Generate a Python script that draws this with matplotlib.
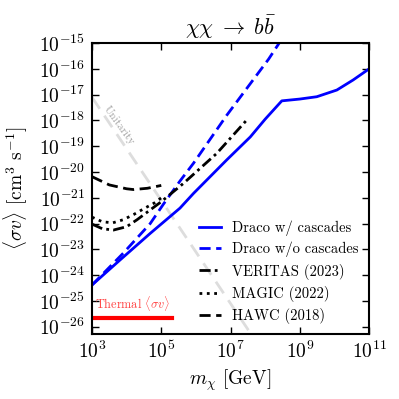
import numpy as np
import matplotlib
matplotlib.use('Agg')
import matplotlib.pyplot as plt

plt.rcParams['font.family'] = 'serif'
plt.rcParams['font.serif'] = ['cmr10']
plt.rcParams['mathtext.fontset'] = 'cm'
plt.rcParams['axes.formatter.use_mathtext'] = True
plt.rcParams['axes.unicode_minus'] = False

# ---------------- data (log10 m [GeV], log10 <sv> [cm^3/s]) ----------------
draco_casc_m = [3.0, 3.81, 4.68, 5.54, 5.93, 6.89, 7.57, 8.0, 8.48, 9.0, 9.49, 10.07, 10.54, 11.0]
draco_casc_sv = [-24.38, -23.41, -22.38, -21.40, -20.83, -19.53, -18.64, -17.95, -17.24,
                 -17.17, -17.08, -16.82, -16.43, -16.0]

draco_nocasc_m = [3.0, 3.9, 4.68, 5.06, 5.54, 5.93, 6.89, 8.10, 8.6]
draco_nocasc_sv = [-24.38, -23.15, -22.0, -21.25, -20.35, -19.66, -17.8, -15.62, -14.6]

veritas_m = [3.0, 3.3, 3.62, 4.0, 4.3, 4.68, 5.0, 5.64, 6.6, 7.47]
veritas_sv = [-22.02, -22.2, -22.25, -22.12, -21.85, -21.47, -21.15, -20.44, -19.28, -17.98]

magic_m = [3.0, 3.3, 3.6, 3.9, 4.2, 4.5, 4.8, 5.0]
magic_sv = [-21.75, -21.93, -21.97, -21.85, -21.65, -21.42, -21.2, -21.0]

hawc_m = [3.0, 3.5, 4.0, 4.2, 4.6, 5.0]
hawc_sv = [-20.18, -20.5, -20.65, -20.68, -20.63, -20.52]

unit_m = [3.0, 9.0]
unit_sv = [-17.1, -29.1]

thermal_m = [1e3, 2.1e5]
thermal_sv = 2.2e-26

# ---------------- figure ----------------
fig = plt.figure(figsize=(3.99, 3.99), dpi=100)
ax = fig.add_axes([0.2306, 0.163, 0.6944, 0.729])

ax.plot(10**np.array(unit_m), 10**np.array(unit_sv), color='#dddddd', lw=2,
        dashes=(5, 3), zorder=1)
ax.text(10**3.78, 10**-18.2, 'Unitarity', color='#a0a0a0', fontsize=8,
        rotation=-54, ha='center', va='center')

ax.plot(10**np.array(draco_casc_m), 10**np.array(draco_casc_sv), color='blue', lw=2,
        label='Draco w/ cascades')
ax.plot(10**np.array(draco_nocasc_m), 10**np.array(draco_nocasc_sv), color='blue', lw=2,
        ls='--', dashes=(4, 2), label='Draco w/o cascades')
ax.plot(10**np.array(veritas_m), 10**np.array(veritas_sv), color='black', lw=2,
        dashes=(4, 1.5, 1, 1.5), label='VERITAS (2023)')
ax.plot(10**np.array(magic_m), 10**np.array(magic_sv), color='black', lw=2,
        ls=':', label='MAGIC (2022)')
ax.plot(10**np.array(hawc_m), 10**np.array(hawc_sv), color='black', lw=2,
        dashes=(4, 2), label='HAWC (2018)')

ax.plot(thermal_m, [thermal_sv, thermal_sv], color='red', lw=3)
ax.text(10**4.17, thermal_sv * 1.5, r'Thermal $\langle\sigma v\rangle$', color='#ff4040',
        fontsize=8.8, ha='center', va='bottom')

ax.set_xscale('log')
ax.set_yscale('log')
ax.set_xlim(1e3, 1e11)
ax.set_ylim(10**-26.28, 1e-15)
ax.set_xticks([1e3, 1e5, 1e7, 1e9, 1e11])
ax.set_yticks([10.0**k for k in range(-26, -14)])
ax.minorticks_off()
ax.tick_params(which='both', direction='in', top=True, right=True, length=5,
               width=1, labelsize=14, pad=5)
for s in ax.spines.values():
    s.set_linewidth(1.5)

ax.set_xlabel(r'$m_\chi$ [GeV]', fontsize=14)
ax.set_ylabel(r'$\langle\sigma v\rangle$ [cm$^3$ s$^{-1}$]', fontsize=14, labelpad=6)
ax.set_title(r'$\chi\chi \;\to\; b\bar{b}$', fontsize=16, pad=6)

ax.legend(loc='lower right', frameon=False, fontsize=10.5, handlelength=1.5,
          handletextpad=0.8, labelspacing=0.42, borderaxespad=0.3)

fig.savefig('out.png', dpi=100)
